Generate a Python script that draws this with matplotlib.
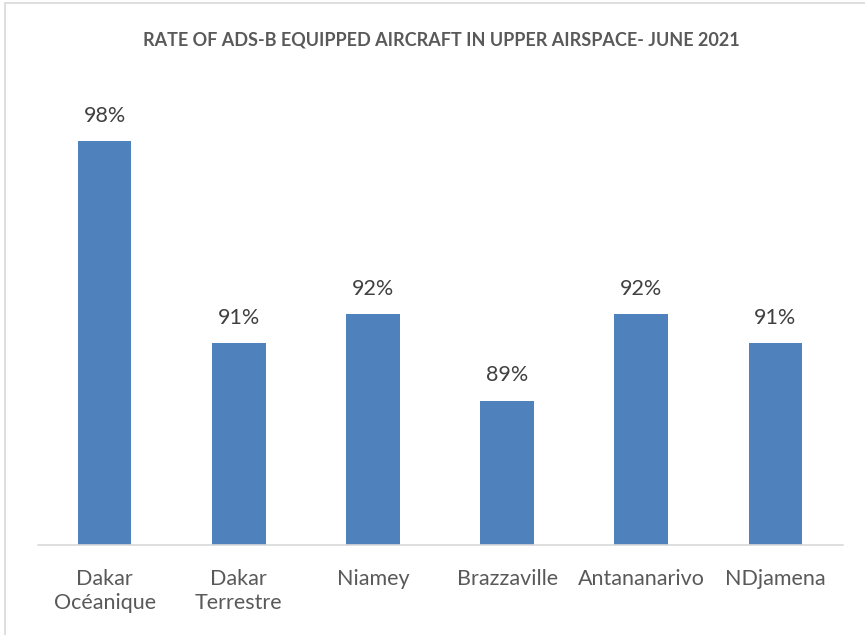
import matplotlib
matplotlib.use("Agg")
import matplotlib.pyplot as plt
from matplotlib.patches import Rectangle

categories = ["Dakar\nOcéanique", "Dakar\nTerrestre", "Niamey", "Brazzaville",
              "Antananarivo", "NDjamena"]
rates = [98, 91, 92, 89, 92, 91]
title = "RATE OF ADS-B EQUIPPED AIRCRAFT IN UPPER AIRSPACE- JUNE 2021"

plt.rcParams["font.family"] = ["Lato", "DejaVu Sans"]

fig = plt.figure(figsize=(8.65, 6.35), dpi=100)
ax = fig.add_axes([0.0434, 0.1417, 0.9306, 0.7275])

x = range(len(categories))
bars = ax.bar(x, rates, width=0.4, color="#4f81bd", zorder=2)
ax.set_ylim(84, 100)
ax.set_xlim(-0.5, len(categories) - 0.5)

for b, v in zip(bars, rates):
    ax.annotate(f"{v}%", (b.get_x() + b.get_width() / 2, v),
                xytext=(0, 11), textcoords="offset points",
                ha="center", va="bottom", fontsize=15.5, color="#404040")

ax.set_xticks(list(x))
ax.set_xticklabels(categories, fontsize=15.5, color="#595959", linespacing=1.3)
ax.tick_params(axis="x", length=0, pad=17)
ax.set_yticks([])
for side in ["top", "left", "right"]:
    ax.spines[side].set_visible(False)
ax.spines["bottom"].set_color("#d9d9d9")
ax.spines["bottom"].set_linewidth(1.2)

fig.text(0.5 * (137 + 745) / 865, 1 - 40 / 635, title, ha="center", va="center",
         fontsize=13, fontweight="bold", color="#595959")

# chart area border
fig.patches.append(Rectangle((5 / 865, -0.01), 1.0, 1 - 3 / 635 + 0.01,
                             transform=fig.transFigure, fill=False,
                             edgecolor="#d9d9d9", linewidth=1.2))

fig.savefig("out.png", dpi=100)
